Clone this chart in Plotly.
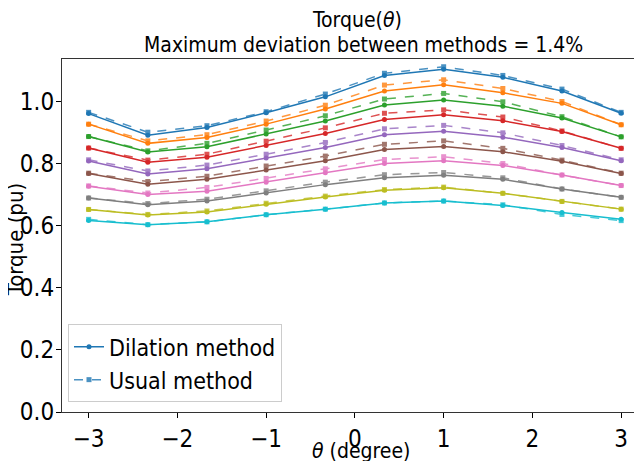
import plotly.graph_objects as go

theta = [-3, -2.333, -1.667, -1, -0.333, 0.333, 1, 1.667, 2.333, 3]

colors = ["#1f77b4", "#ff7f0e", "#2ca02c", "#d62728", "#9467bd",
          "#8c564b", "#e377c2", "#7f7f7f", "#bcbd22", "#17becf"]

dil_blue = [0.962, 0.892, 0.917, 0.965, 1.016, 1.085, 1.105, 1.079, 1.035, 0.963]
dil_orange = [0.928, 0.866, 0.885, 0.928, 0.977, 1.035, 1.055, 1.029, 0.995, 0.926]
dil_green = [0.888, 0.838, 0.855, 0.896, 0.938, 0.990, 1.006, 0.986, 0.948, 0.887]
dil_red = [0.851, 0.805, 0.821, 0.859, 0.898, 0.943, 0.958, 0.939, 0.904, 0.850]
dil_purple = [0.809, 0.767, 0.784, 0.819, 0.853, 0.894, 0.905, 0.886, 0.853, 0.810]
dil_brown = [0.769, 0.734, 0.750, 0.780, 0.810, 0.846, 0.856, 0.839, 0.808, 0.769]
dil_pink = [0.728, 0.701, 0.712, 0.741, 0.771, 0.801, 0.810, 0.795, 0.764, 0.730]
dil_gray = [0.690, 0.668, 0.680, 0.706, 0.733, 0.755, 0.763, 0.750, 0.719, 0.692]
dil_olive = [0.653, 0.635, 0.645, 0.670, 0.693, 0.715, 0.723, 0.705, 0.679, 0.654]
dil_cyan = [0.617, 0.604, 0.613, 0.636, 0.654, 0.674, 0.680, 0.666, 0.643, 0.621]

usu_blue = [0.966, 0.902, 0.923, 0.968, 1.025, 1.092, 1.113, 1.085, 1.041, 0.966]
usu_orange = [0.928, 0.874, 0.894, 0.938, 0.989, 1.054, 1.071, 1.043, 1.001, 0.926]
usu_green = [0.888, 0.842, 0.866, 0.909, 0.955, 1.009, 1.027, 1.000, 0.952, 0.887]
usu_red = [0.851, 0.812, 0.831, 0.873, 0.916, 0.963, 0.974, 0.951, 0.906, 0.850]
usu_purple = [0.813, 0.777, 0.796, 0.831, 0.869, 0.913, 0.924, 0.900, 0.859, 0.813]
usu_brown = [0.770, 0.743, 0.760, 0.793, 0.825, 0.863, 0.874, 0.850, 0.812, 0.770]
usu_pink = [0.729, 0.706, 0.724, 0.753, 0.784, 0.814, 0.823, 0.801, 0.764, 0.730]
usu_gray = [0.690, 0.672, 0.686, 0.713, 0.741, 0.765, 0.772, 0.755, 0.719, 0.692]
usu_olive = [0.653, 0.637, 0.648, 0.673, 0.696, 0.717, 0.725, 0.705, 0.679, 0.654]
usu_cyan = [0.621, 0.604, 0.613, 0.636, 0.654, 0.674, 0.680, 0.668, 0.637, 0.617]

dilation = [dil_blue, dil_orange, dil_green, dil_red, dil_purple,
            dil_brown, dil_pink, dil_gray, dil_olive, dil_cyan]
usual = [usu_blue, usu_orange, usu_green, usu_red, usu_purple,
         usu_brown, usu_pink, usu_gray, usu_olive, usu_cyan]

FONT = "DejaVu Sans Condensed, DejaVu Sans, sans-serif"

# page shows the figure offset by the body margin (8 px); plot area on screen: x 62..650, y 59..411.7
PL, PT, PW, PH = 62, 59, 588, 352.7


def px(sx):
    return (sx - PL) / PW


def py(sy):
    return (PT + PH - sy) / PH


fig = go.Figure()
for i, (d, u, c) in enumerate(zip(dilation, usual, colors)):
    fig.add_trace(go.Scatter(
        x=theta, y=d, mode="lines+markers", name="Dilation method",
        line=dict(color=c, width=1.5), marker=dict(symbol="circle", size=5, color=c),
        showlegend=(i == 0)))
    fig.add_trace(go.Scatter(
        x=theta, y=u, mode="lines+markers", name="Usual method",
        line=dict(color=c, width=1.5, dash="dash"), opacity=0.8,
        marker=dict(symbol="square", size=5, color=c),
        showlegend=(i == 0)))

fig.update_layout(
    width=642, height=461,
    margin=dict(l=54, r=0, t=51, b=57, autoexpand=False),
    paper_bgcolor="white", plot_bgcolor="white",
    font=dict(family=FONT, color="black"),
    xaxis=dict(range=[-3.3, 3.325], tickvals=[-3, -2, -1, 0, 1, 2, 3],
               ticks="outside", ticklen=5, tickcolor="black",
               showline=True, linecolor="#333333", linewidth=1, mirror=True,
               showgrid=False, zeroline=False, automargin=False,
               tickfont=dict(size=24, family=FONT)),
    yaxis=dict(range=[0, 1.138], tickvals=[0, 0.2, 0.4, 0.6, 0.8, 1.0], tickformat=".1f",
               ticks="outside", ticklen=5, tickcolor="black", ticklabelstandoff=-3,
               showline=True, linecolor="#333333", linewidth=1,
               showgrid=False, zeroline=False, automargin=False,
               tickfont=dict(size=24, family=FONT)),
    legend=dict(x=px(68), y=py(402), xanchor="left", yanchor="bottom",
                bgcolor="rgba(255,255,255,0.8)", bordercolor="#cccccc", borderwidth=1,
                font=dict(size=23, family=FONT)),
    annotations=[
        dict(text="Torque(<i>θ</i>)", xref="paper", yref="paper", x=px(357), y=py(20),
             showarrow=False, font=dict(size=21, family=FONT), xanchor="center", yanchor="middle"),
        dict(text="Maximum deviation between methods = 1.4%", xref="paper", yref="paper",
             x=px(363), y=py(45),
             showarrow=False, font=dict(size=21, family=FONT), xanchor="center", yanchor="middle"),
        dict(text="<i>θ</i> (degree)", xref="paper", yref="paper", x=px(361), y=py(451),
             showarrow=False, font=dict(size=21, family=FONT), xanchor="center", yanchor="middle"),
        dict(text="Torque (pu)", xref="paper", yref="paper", x=px(15), y=py(240),
             showarrow=False, textangle=-90, font=dict(size=22, family=FONT),
             xanchor="center", yanchor="middle"),
    ],
)

fig.write_html("out.html")
